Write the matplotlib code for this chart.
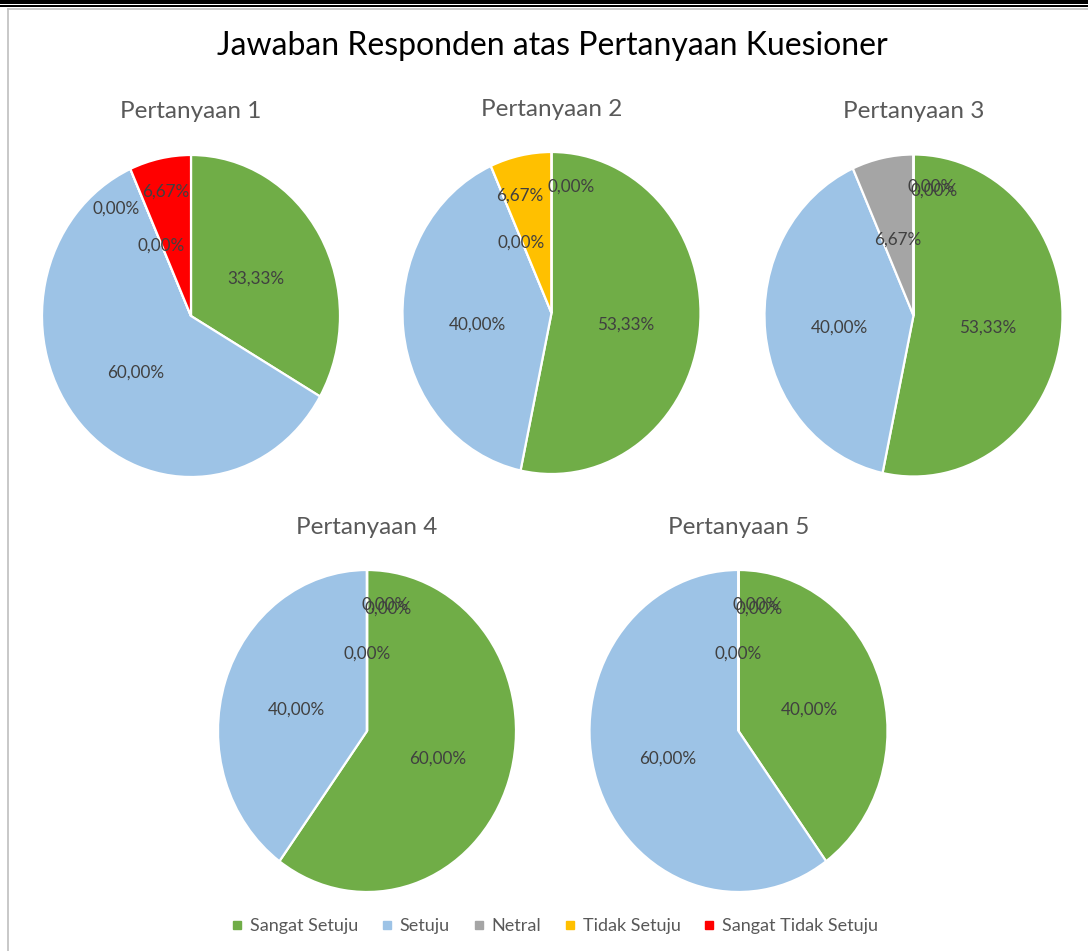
import matplotlib
matplotlib.use("Agg")
import matplotlib.pyplot as plt
from matplotlib.patches import Rectangle
from matplotlib.lines import Line2D
import numpy as np

# ---------------- data ----------------
categories = ["Sangat Setuju", "Setuju", "Netral", "Tidak Setuju", "Sangat Tidak Setuju"]
titles = ["Pertanyaan 1", "Pertanyaan 2", "Pertanyaan 3", "Pertanyaan 4", "Pertanyaan 5"]
q1 = [33.33, 60.00, 0.00, 0.00, 6.67]
q2 = [53.33, 40.00, 0.00, 6.67, 0.00]
q3 = [53.33, 40.00, 6.67, 0.00, 0.00]
q4 = [60.00, 40.00, 0.00, 0.00, 0.00]
q5 = [40.00, 60.00, 0.00, 0.00, 0.00]
main_title = "Jawaban Responden atas Pertanyaan Kuesioner"

# ---------------- style ----------------
colors = ["#70AD47", "#9DC3E6", "#A5A5A5", "#FFC000", "#FF0000"]
W, H = 1088, 951
# pie centre (px) and radii (px)
pie_geom = [(191, 316), (551.5, 313), (913.5, 315.5), (367, 731), (738.5, 731)]
RX, RY = 149, 161
title_y = [111, 109, 111, 528, 528]
# label placement overrides: (pie index, slice index) -> (radius, angle deg)
label_pos = {
    (0, 2): (0.85, 126), (0, 4): (0.81, 102),
    (1, 3): (0.78, 105.8), (1, 4): (0.818, 80.8),
    (2, 3): (0.827, 81.8), (2, 4): (0.806, 80.1),
    (3, 3): (0.815, 81.5), (3, 4): (0.795, 79.8),
    (4, 3): (0.815, 81.5), (4, 4): (0.795, 79.8),
}
label_dy = -0.02  # small downward nudge of data labels (axes units)

plt.rcParams['font.family'] = ['Lato', 'DejaVu Sans']
fig = plt.figure(figsize=(W / 100, H / 100), dpi=100)

# frame decorations
fig.patches.append(Rectangle((0, 1 - 4 / H), 1, 4 / H, transform=fig.transFigure,
                             facecolor="black", edgecolor="none"))
fig.patches.append(Rectangle((0, 1 - 6.7 / H), 1, 1.7 / H, transform=fig.transFigure,
                             facecolor="black", edgecolor="none"))
fig.lines.append(Line2D([7.5 / W, 1], [1 - 8.5 / H, 1 - 8.5 / H], transform=fig.transFigure,
                        color="#BFBFBF", lw=1.2))
fig.lines.append(Line2D([7.5 / W, 7.5 / W], [0, 1 - 8.5 / H], transform=fig.transFigure,
                        color="#BFBFBF", lw=1.2))

fig.text(0.5 * (218 + 886) / W, 1 - 46 / H, main_title, ha="center", va="center",
         fontsize=23, color="#000000")

data = [q1, q2, q3, q4, q5]


def fmt(p):
    return f"{p:.2f}%".replace(".", ",")


for i, (vals, (cx, cy)) in enumerate(zip(data, pie_geom)):
    ax = fig.add_axes([(cx - RX) / W, 1 - (cy + RY) / H, 2 * RX / W, 2 * RY / H])
    wedges, texts, autotexts = ax.pie(
        vals, colors=colors, startangle=90, counterclock=False,
        autopct=fmt, pctdistance=0.5, radius=1,
        wedgeprops=dict(edgecolor="white", linewidth=1.6),
        textprops=dict(fontsize=12.3, color="#404040"))
    for j, t in enumerate(autotexts):
        if (i, j) in label_pos:
            r, a = label_pos[(i, j)]
            x, y = r * np.cos(np.radians(a)), r * np.sin(np.radians(a))
        else:
            x, y = t.get_position()
        t.set_position((x, y + label_dy))
    ax.set_aspect("auto")
    ax.set_xlim(-1, 1)
    ax.set_ylim(-1, 1)
    ax.axis("off")
    fig.text(cx / W, 1 - title_y[i] / H, titles[i], ha="center", va="center",
             fontsize=17.5, color="#595959")

handles = [Line2D([], [], marker="s", linestyle="none", markersize=6,
                  markerfacecolor=c, markeredgecolor=c) for c in colors]
fig.legend(handles, categories, loc="center", bbox_to_anchor=(555 / W, 1 - 926 / H),
           ncol=5, frameon=False, fontsize=13, labelcolor="#595959",
           handlelength=0.6, handletextpad=0.4, columnspacing=1.3)

fig.savefig("out.png", dpi=100, facecolor="white")
